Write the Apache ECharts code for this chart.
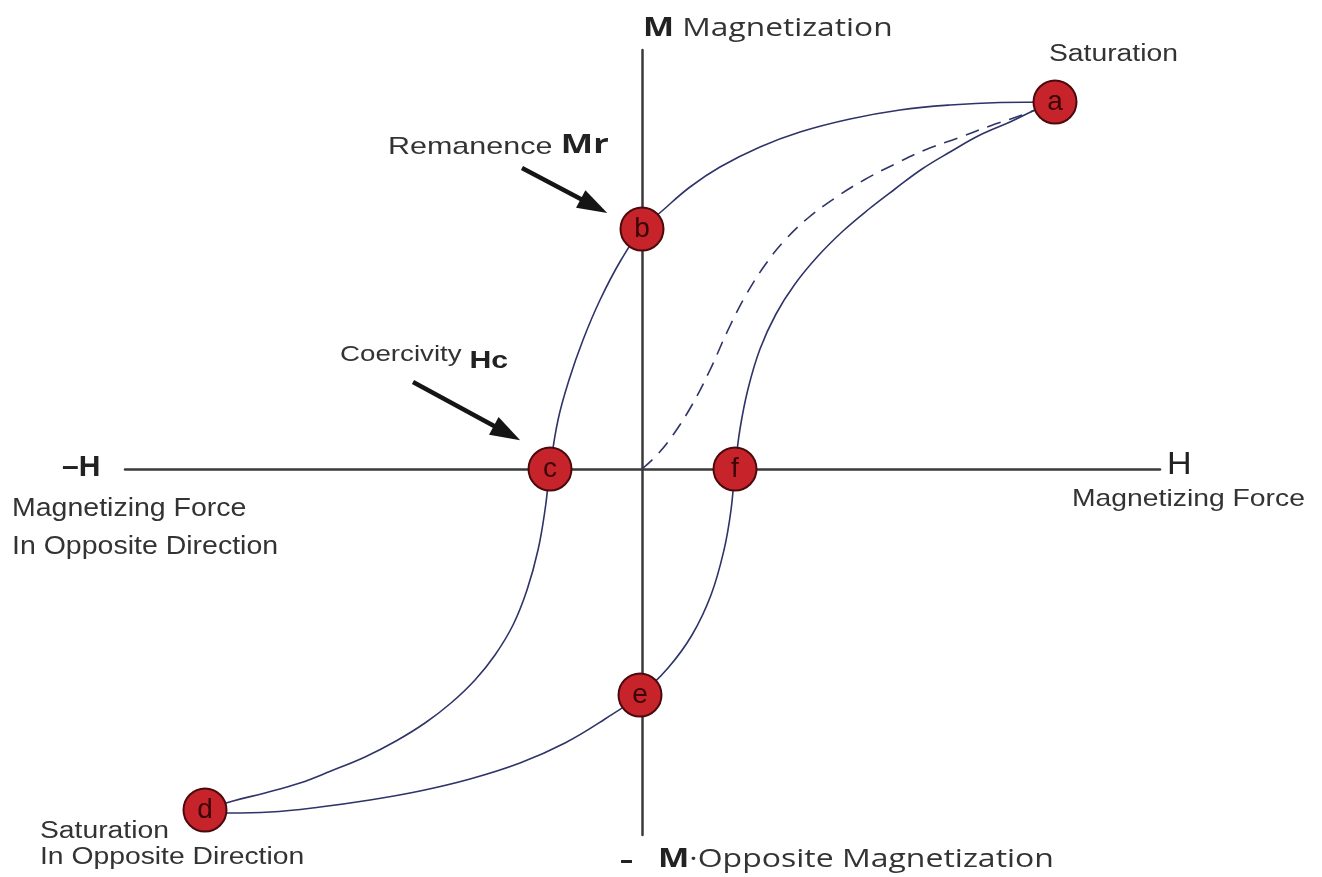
<!DOCTYPE html>
<html>
<head>
<meta charset="utf-8">
<title>Hysteresis loop</title>
<script src="https://cdn.jsdelivr.net/npm/echarts@6/dist/echarts.min.js"></script>
<style>
  html, body { margin: 0; padding: 0; background: #fff; }
  #loop { width: 1322px; height: 877px; }
</style>
</head>
<body>
<div id="loop"></div>
<script>
// H and M in arbitrary units (origin where the axes cross)
const upperBranch = [
  [4.13, 3.67], [3.58, 3.665], [3.08, 3.64], [2.58, 3.59], [2.08, 3.50],
  [1.58, 3.37], [1.18, 3.22], [0.78, 3.02], [0.48, 2.82], [0.20, 2.58],
  [0, 2.40], [-0.21, 2.09], [-0.42, 1.69], [-0.59, 1.29], [-0.73, 0.89],
  [-0.84, 0.49], [-0.92, 0], [-0.97, -0.41], [-1.04, -0.81], [-1.15, -1.21],
  [-1.29, -1.56], [-1.47, -1.86], [-1.67, -2.11], [-1.91, -2.34], [-2.17, -2.54],
  [-2.46, -2.72], [-2.77, -2.88], [-3.11, -3.02], [-3.42, -3.14], [-3.77, -3.24],
  [-4.09, -3.32], [-4.37, -3.41]
]
const lowerBranch = [
  [-4.37, -3.41], [-4.14, -3.44], [-3.72, -3.43], [-3.22, -3.38], [-2.72, -3.31],
  [-2.22, -3.22], [-1.72, -3.10], [-1.22, -2.94], [-0.77, -2.74], [-0.37, -2.50],
  [-0.02, -2.26], [0.26, -1.99], [0.50, -1.66], [0.69, -1.26], [0.82, -0.81],
  [0.89, -0.41], [0.93, 0], [0.98, 0.40], [1.06, 0.80], [1.18, 1.20],
  [1.34, 1.55], [1.53, 1.85], [1.76, 2.13], [2.01, 2.38], [2.27, 2.60],
  [2.53, 2.80], [2.80, 3.00], [3.08, 3.17], [3.38, 3.34], [3.68, 3.47],
  [3.93, 3.59], [4.13, 3.67]
]
const initialCurve = [
  [0, 0], [0.15, 0.14], [0.31, 0.34], [0.50, 0.64], [0.68, 0.99],
  [0.86, 1.39], [1.04, 1.74], [1.23, 2.04], [1.43, 2.29], [1.66, 2.51],
  [1.93, 2.71], [2.22, 2.89], [2.53, 3.05], [2.83, 3.19], [3.16, 3.31],
  [3.48, 3.43], [3.83, 3.55], [4.13, 3.67]
]
const pointNames = ['a', 'b', 'c', 'd', 'e', 'f']
const pointValues = [[4.13, 3.67], [0, 2.40], [-0.92, 0], [-4.37, -3.41], [-0.02, -2.26], [0.93, 0]]
// arrows pointing at Mr and Hc (tail, head centre)
const arrowMr = [[-1.20, 3.01], [-0.48, 2.63]]
const arrowHc = [[-2.29, 0.87], [-1.35, 0.36]]

const chart = echarts.init(document.getElementById('loop'))

const curveStyle = { color: '#2e3468', width: 1.6 }
const sans = 'Liberation Sans, Arial, sans-serif'
const open = 'Open Sans, sans-serif'

// the lettering in the picture is stretched sideways, hence scaleX
const option = {
  animation: false,
  grid: { left: 125, right: 162, top: 50, bottom: 42 },
  xAxis: {
    type: 'value',
    min: -5.17,
    max: 5.18,
    axisLine: { onZero: true, lineStyle: { color: '#3a3a3a', width: 2.5 } },
    axisTick: { show: false },
    axisLabel: { show: false },
    splitLine: { show: false }
  },
  yAxis: {
    type: 'value',
    min: -3.66,
    max: 4.19,
    axisLine: { onZero: true, lineStyle: { color: '#3a3a3a', width: 2.5 } },
    axisTick: { show: false },
    axisLabel: { show: false },
    splitLine: { show: false }
  },
  graphic: [
    {
      type: 'text', left: 643, top: 15, scaleX: 1.22,
      style: {
        text: '{b|M} Magnetization',
        font: '26px ' + open, fill: '#333',
        rich: { b: { fontWeight: 'bold', fontSize: 27, fontFamily: open, fill: '#222' } }
      }
    },
    { type: 'text', left: 1049, top: 43, scaleX: 1.23, style: { text: 'Saturation', font: '23px ' + sans, fill: '#333' } },
    {
      type: 'text', left: 388, top: 132, scaleX: 1.27,
      style: {
        text: 'Remanence {b|Mr}',
        font: '24px ' + sans, fill: '#333',
        rich: { b: { fontWeight: 'bold', fontSize: 27, fontFamily: open, fill: '#222', padding: [0, 0, 4, 0] } }
      }
    },
    {
      type: 'text', left: 340, top: 344, scaleX: 1.26,
      style: {
        text: 'Coercivity {b|Hc}',
        font: '22px ' + sans, fill: '#333',
        rich: { b: { fontWeight: 'bold', fontSize: 24, fontFamily: sans, fill: '#222', padding: [12, 0, 0, 0] } }
      }
    },
    { type: 'text', left: 62, top: 453, style: { text: '–H', font: 'bold 30px ' + sans, fill: '#222' } },
    { type: 'text', left: 12, top: 497, scaleX: 1.14, style: { text: 'Magnetizing Force', font: '25px ' + sans, fill: '#333' } },
    { type: 'text', left: 12, top: 535, scaleX: 1.14, style: { text: 'In Opposite Direction', font: '25px ' + sans, fill: '#333' } },
    { type: 'text', left: 1167, top: 450, scaleX: 1.1, style: { text: 'H', font: '31px ' + sans, fill: '#222' } },
    { type: 'text', left: 1072, top: 487, scaleX: 1.18, style: { text: 'Magnetizing Force', font: '24px ' + sans, fill: '#333' } },
    { type: 'text', left: 40, top: 820, scaleX: 1.23, style: { text: 'Saturation', font: '23px ' + sans, fill: '#333' } },
    { type: 'text', left: 40, top: 846, scaleX: 1.23, style: { text: 'In Opposite Direction', font: '23px ' + sans, fill: '#333' } },
    { type: 'text', left: 620, top: 849, style: { text: '–', font: 'bold 26px ' + open, fill: '#222' } },
    {
      type: 'text', left: 658, top: 846, scaleX: 1.23,
      style: {
        text: '{b|M}·Opposite Magnetization',
        font: '26px ' + open, fill: '#333',
        rich: { b: { fontWeight: 'bold', fontSize: 27, fontFamily: open, fill: '#222' } }
      }
    }
  ],
  series: [
    {
      name: 'upper',
      type: 'line',
      data: upperBranch,
      smooth: 0.4,
      showSymbol: false,
      lineStyle: curveStyle,
      z: 3,
      markLine: {
        silent: true,
        symbol: ['none', 'triangle'],
        symbolSize: [20, 30],
        lineStyle: { color: '#151515', width: 4.5, type: 'solid' },
        label: { show: false },
        data: [
          [{ coord: arrowMr[0] }, { coord: arrowMr[1] }],
          [{ coord: arrowHc[0] }, { coord: arrowHc[1] }]
        ]
      }
    },
    {
      name: 'lower',
      type: 'line',
      data: lowerBranch,
      smooth: 0.4,
      showSymbol: false,
      lineStyle: curveStyle,
      z: 3
    },
    {
      name: 'initial',
      type: 'line',
      data: initialCurve,
      smooth: 0.4,
      showSymbol: false,
      lineStyle: { color: '#2e3468', width: 1.6, type: [14, 9] },
      z: 3
    },
    {
      name: 'points',
      type: 'scatter',
      data: pointValues.map((v, i) => ({ value: v, name: pointNames[i] })),
      symbolSize: 43,
      itemStyle: { color: '#c6242a', borderColor: '#4a0a0d', borderWidth: 2, opacity: 1 },
      label: {
        show: true,
        position: 'inside',
        formatter: p => p.name,
        color: '#3a0608',
        fontSize: 28,
        fontFamily: sans,
        padding: [0, 0, 4, 0]
      },
      z: 5
    }
  ]
}

chart.setOption(option)
</script>
</body>
</html>
